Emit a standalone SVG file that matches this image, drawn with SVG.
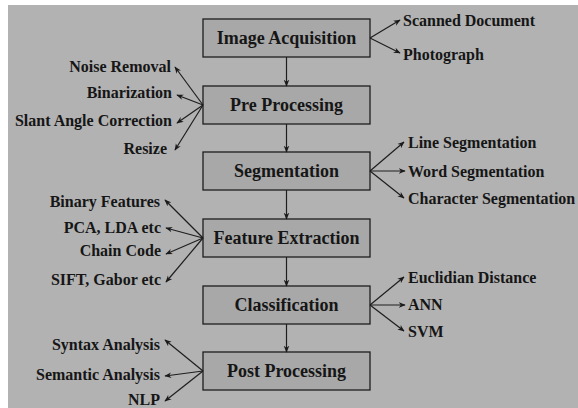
<svg xmlns="http://www.w3.org/2000/svg" width="578" height="408" viewBox="0 0 578 408">
<defs>
<marker id="ah" viewBox="0 0 10 10" refX="9" refY="5" markerWidth="7" markerHeight="7" markerUnits="userSpaceOnUse" orient="auto">
<path d="M0,1 L10,5 L0,9 L3,5 Z" fill="#1a1a1a"/>
</marker>
</defs>
<style>
.box{fill:#a8a8a8;stroke:#1e1e1e;stroke-width:1.3}
text{font-family:'Liberation Serif','DejaVu Serif','Times New Roman',serif;fill:#161616}
.bt{font-weight:bold;font-size:18px;text-anchor:middle}
.lt{font-weight:bold;font-size:16px}
.r{text-anchor:end}
.c line{stroke:#1e1e1e;stroke-width:1.2;marker-end:url(#ah)}
</style>
<rect x="0" y="0" width="578" height="408" fill="#ffffff"/>
<rect x="8" y="5" width="570" height="403" fill="#b2b2b2"/>

<g id="n1"><rect class="box" x="203" y="19" width="167" height="38"/><text class="bt" x="286.5" y="44">Image Acquisition</text></g>
<g id="n2"><rect class="box" x="203" y="86" width="167" height="38"/><text class="bt" x="286.5" y="111">Pre Processing</text></g>
<g id="n3"><rect class="box" x="203" y="152" width="167" height="38"/><text class="bt" x="286.5" y="177">Segmentation</text></g>
<g id="n4"><rect class="box" x="203" y="219" width="167" height="38"/><text class="bt" x="286.5" y="244">Feature Extraction</text></g>
<g id="n5"><rect class="box" x="203" y="286" width="167" height="38"/><text class="bt" x="286.5" y="311">Classification</text></g>
<g id="n6"><rect class="box" x="203" y="352" width="167" height="38"/><text class="bt" x="286.5" y="377">Post Processing</text></g>

<g id="labels">
<text class="lt" x="403" y="26">Scanned Document</text>
<text class="lt" x="403" y="60">Photograph</text>
<text class="lt r" x="171" y="72">Noise Removal</text>
<text class="lt r" x="172" y="98">Binarization</text>
<text class="lt r" x="172" y="126">Slant Angle Correction</text>
<text class="lt r" x="167" y="154">Resize</text>
<text class="lt" x="408" y="148">Line Segmentation</text>
<text class="lt" x="408" y="177">Word Segmentation</text>
<text class="lt" x="408" y="204">Character Segmentation</text>
<text class="lt r" x="160" y="207">Binary Features</text>
<text class="lt r" x="161" y="233">PCA, LDA etc</text>
<text class="lt r" x="161" y="256">Chain Code</text>
<text class="lt r" x="161" y="285">SIFT, Gabor etc</text>
<text class="lt" x="408" y="283">Euclidian Distance</text>
<text class="lt" x="408" y="310">ANN</text>
<text class="lt" x="408" y="337">SVM</text>
<text class="lt r" x="160" y="350">Syntax Analysis</text>
<text class="lt r" x="160" y="380">Semantic Analysis</text>
<text class="lt r" x="160" y="405">NLP</text>
</g>

<g id="connectors" class="c">
<line x1="286.5" y1="57" x2="286.5" y2="86"/>
<line x1="286.5" y1="124" x2="286.5" y2="152"/>
<line x1="286.5" y1="190" x2="286.5" y2="219"/>
<line x1="286.5" y1="257" x2="286.5" y2="286"/>
<line x1="286.5" y1="324" x2="286.5" y2="352"/>

<line x1="370" y1="38" x2="400" y2="20"/>
<line x1="370" y1="38" x2="400" y2="53"/>

<line x1="203" y1="105" x2="175" y2="67"/>
<line x1="203" y1="105" x2="177" y2="95"/>
<line x1="203" y1="105" x2="177" y2="123"/>
<line x1="203" y1="105" x2="175" y2="150"/>

<line x1="370" y1="171" x2="404" y2="142"/>
<line x1="370" y1="171" x2="405" y2="171"/>
<line x1="370" y1="171" x2="404" y2="198"/>

<line x1="203" y1="238" x2="165" y2="200"/>
<line x1="203" y1="238" x2="166" y2="228"/>
<line x1="203" y1="238" x2="166" y2="254"/>
<line x1="203" y1="238" x2="166" y2="282"/>

<line x1="370" y1="305" x2="404" y2="277"/>
<line x1="370" y1="305" x2="405" y2="305"/>
<line x1="370" y1="305" x2="404" y2="331"/>

<line x1="203" y1="371" x2="165" y2="340"/>
<line x1="203" y1="371" x2="165" y2="376"/>
<line x1="203" y1="371" x2="165" y2="401"/>
</g>
</svg>
